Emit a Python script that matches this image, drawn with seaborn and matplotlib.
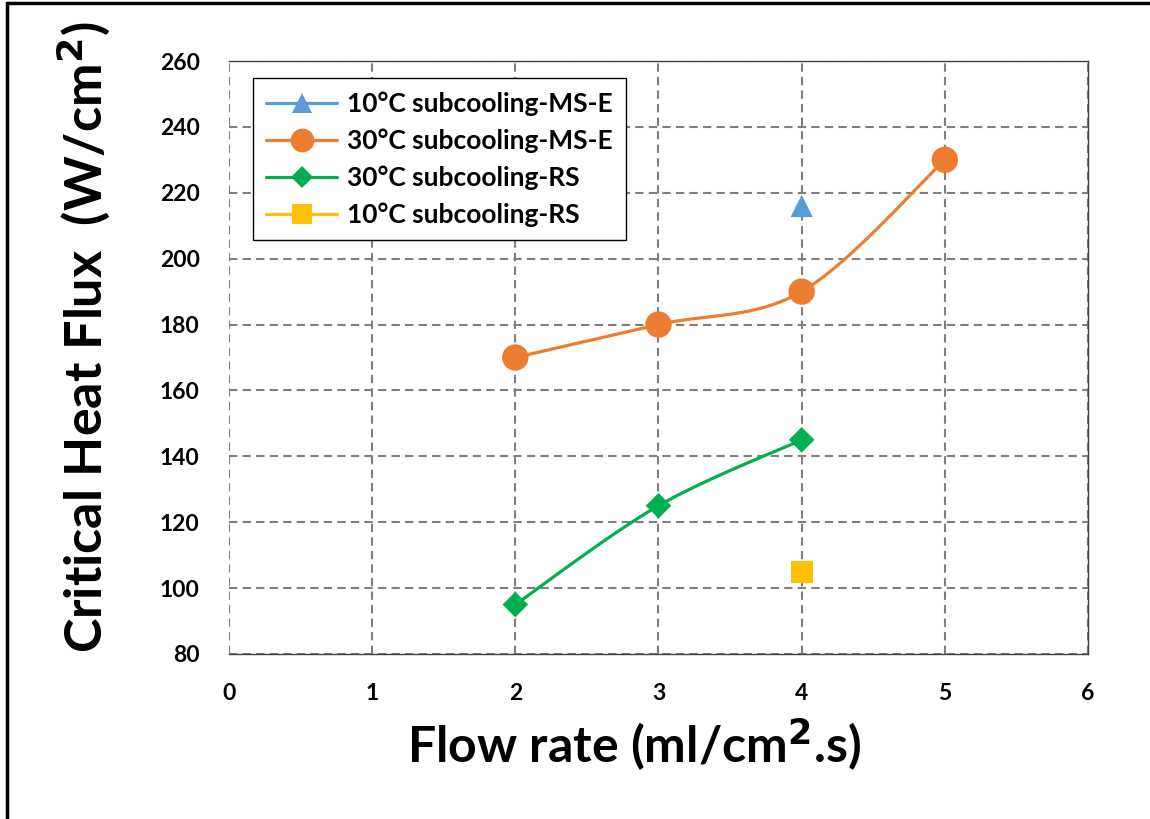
import numpy as np
import pandas as pd
import matplotlib
matplotlib.use("Agg")
import matplotlib.pyplot as plt
from matplotlib.lines import Line2D
from matplotlib.patches import Rectangle
import seaborn as sns

# Critical heat flux measurements
flow_ms10 = [4]
chf_ms10 = [216]
flow_ms30 = [2, 3, 4, 5]
chf_ms30 = [170, 180, 190, 230]
flow_rs30 = [2, 3, 4]
chf_rs30 = [95, 125, 145]
flow_rs10 = [4]
chf_rs10 = [105]

labels = ["10°C subcooling-MS-E", "30°C subcooling-MS-E",
          "30°C subcooling-RS", "10°C subcooling-RS"]
colors = ["#5B9BD5", "#ED7D31", "#00B050", "#FFC000"]
markers = ["^", "o", "D", "s"]
msizes = [16, 19, 13, 16]

x_ticks = [0, 1, 2, 3, 4, 5, 6]
y_ticks = [80, 100, 120, 140, 160, 180, 200, 220, 240, 260]

sns.set_theme(style="white")
plt.rcParams["font.family"] = ["Lato", "DejaVu Sans"]
plt.rcParams["text.color"] = "black"
plt.rcParams["axes.labelcolor"] = "black"

fig = plt.figure(figsize=(11.5, 8.19), dpi=100)
ax = fig.add_axes([0.1991, 0.2015, 0.7470, 0.7240])
ax.set_xlim(0, 6)
ax.set_ylim(80, 260)


def smooth_curve(xs, ys, n=60):
    """Smoothed line: cubic Bezier segments with 1/6 tangent control points."""
    xs = np.asarray(xs, float)
    ys = np.asarray(ys, float)
    sx, sy = 6.0, 180.0
    P = np.column_stack([xs / sx, ys / sy])
    Pext = np.vstack([P[0], P, P[-1]])
    out = []
    t = np.linspace(0, 1, n)[:, None]
    for i in range(len(P) - 1):
        p0, p1 = Pext[i + 1], Pext[i + 2]
        c1 = p0 + (Pext[i + 2] - Pext[i]) / 6.0
        c2 = p1 - (Pext[i + 3] - Pext[i + 1]) / 6.0
        seg = ((1 - t) ** 3) * p0 + 3 * ((1 - t) ** 2) * t * c1 \
            + 3 * (1 - t) * t ** 2 * c2 + t ** 3 * p1
        out.append(seg if i == 0 else seg[1:])
    out = np.vstack(out)
    return out[:, 0] * sx, out[:, 1] * sy


series = [(flow_ms10, chf_ms10), (flow_ms30, chf_ms30),
          (flow_rs30, chf_rs30), (flow_rs10, chf_rs10)]

for (xs, ys), c, m, ms in zip(series, colors, markers, msizes):
    if len(xs) > 1:
        cx, cy = smooth_curve(xs, ys)
        ax.plot(cx, cy, color=c, lw=2.3, zorder=3, solid_capstyle="round")
    df = pd.DataFrame({"x": xs, "y": ys})
    sns.scatterplot(data=df, x="x", y="y", ax=ax, marker=m, color=c,
                    s=ms ** 2, edgecolor="none", linewidth=0, zorder=4)

ax.set_xticks(x_ticks)
ax.set_yticks(y_ticks)
ax.grid(True, color="#7F7F7F", linestyle=(0, (4, 2.5)), linewidth=1.5)
ax.set_axisbelow(True)
ax.tick_params(axis="y", length=0, labelsize=16.5, pad=21,
               labelcolor="black")
ax.tick_params(axis="x", length=0, labelsize=16.5, pad=21,
               labelcolor="black")
for lab in ax.get_xticklabels() + ax.get_yticklabels():
    lab.set_fontweight("bold")

for side in ["bottom", "right", "top"]:
    ax.spines[side].set_visible(True)
    ax.spines[side].set_color("#404040")
    ax.spines[side].set_linewidth(1.0)
ax.spines["left"].set_visible(False)

ax.set_xlabel("Flow rate (ml/cm$^{\\mathbf{2}}$.s)", fontsize=36,
              fontweight="bold", labelpad=9, color="black")
ax.set_ylabel("Critical Heat Flux  (W/cm$^{\\mathbf{2}}$)", fontsize=37.5,
              fontweight="bold", labelpad=34, color="black")
ax.xaxis.label.set_x(0.472)
ax.yaxis.label.set_y(0.535)

handles = [Line2D([0], [0], color=c, lw=2.3, marker=m, markersize=ms * 0.9,
                  markeredgewidth=0)
           for c, m, ms in zip(colors, markers, msizes)]
leg = ax.legend(handles, labels, loc="upper left",
                bbox_to_anchor=(0.028, 0.971), frameon=True, fancybox=False,
                edgecolor="black", framealpha=1, fontsize=19,
                handlelength=2.7, handletextpad=0.35, labelspacing=0.47,
                borderpad=0.5, borderaxespad=0)
leg.get_frame().set_linewidth(1.0)
for txt in leg.get_texts():
    txt.set_fontweight("bold")
    txt.set_color("black")

# Outer chart frame
fig.patches.append(Rectangle((7 / 1150, -0.05), 1.2, 1 - 3 / 819 + 0.05,
                             transform=fig.transFigure, fill=False,
                             edgecolor="black", linewidth=2.5))

fig.savefig("out.png", dpi=100)
